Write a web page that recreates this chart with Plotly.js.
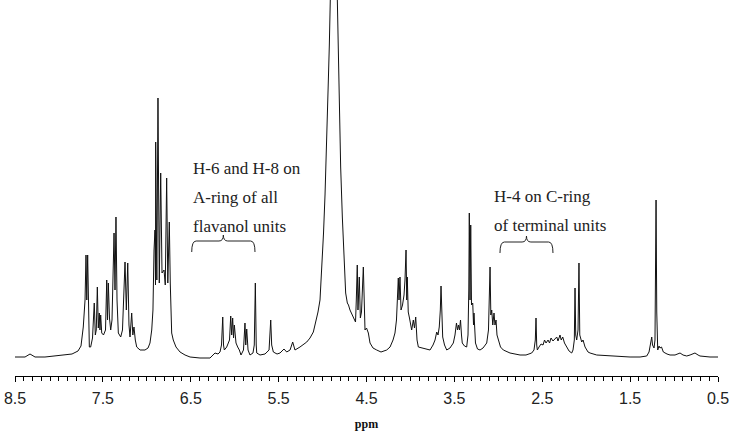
<!DOCTYPE html>
<html>
<head>
<meta charset="utf-8">
<script src="https://cdn.plot.ly/plotly-3.0.1.min.js"></script>
<style>
  body { margin: 0; background: #fff; }
  #spectrum { width: 733px; height: 432px; }
</style>
</head>
<body>
<div id="spectrum"></div>
<script>
// chemical shift (ppm) and signal intensity (arbitrary units)
var shift = [
  8.500, 8.386, 8.329, 8.272, 8.159, 8.045, 7.931, 7.851, 7.783, 7.749,
  7.723, 7.703, 7.692, 7.683, 7.673, 7.664, 7.654, 7.639, 7.618, 7.598,
  7.586, 7.575, 7.563, 7.552, 7.541, 7.533, 7.525, 7.513, 7.493, 7.470,
  7.456, 7.447, 7.438, 7.425, 7.411, 7.396, 7.373, 7.362, 7.351, 7.339,
  7.324, 7.297, 7.277, 7.248, 7.233, 7.217, 7.203, 7.191, 7.172, 7.159,
  7.146, 7.131, 7.115, 7.077, 7.021, 6.986, 6.964, 6.944, 6.930, 6.918,
  6.907, 6.901, 6.899, 6.886, 6.873, 6.858, 6.842, 6.827, 6.804, 6.790,
  6.782, 6.774, 6.761, 6.744, 6.733, 6.717, 6.699, 6.668, 6.622, 6.565,
  6.508, 6.395, 6.281, 6.224, 6.190, 6.167, 6.150, 6.136, 6.127, 6.118,
  6.091, 6.059, 6.045, 6.034, 6.023, 6.013, 6.004, 5.994, 5.985, 5.966,
  5.947, 5.928, 5.900, 5.883, 5.874, 5.863, 5.848, 5.826, 5.792, 5.777,
  5.765, 5.755, 5.749, 5.712, 5.655, 5.609, 5.590, 5.579, 5.560, 5.518,
  5.484, 5.439, 5.408, 5.370, 5.340, 5.314, 5.257, 5.180, 5.143, 5.105,
  5.075, 5.052, 5.029, 5.006, 4.989, 4.972, 4.957, 4.946, 4.935, 4.923,
  4.912, 4.904, 4.893, 4.870, 4.847, 4.832, 4.821, 4.809, 4.794, 4.775,
  4.756, 4.737, 4.718, 4.705, 4.688, 4.665, 4.642, 4.625, 4.616, 4.605,
  4.597, 4.582, 4.570, 4.557, 4.536, 4.526, 4.517, 4.500, 4.479, 4.460,
  4.426, 4.384, 4.335, 4.270, 4.232, 4.198, 4.176, 4.159, 4.147, 4.138,
  4.130, 4.119, 4.107, 4.090, 4.073, 4.062, 4.050, 4.042, 4.036, 4.025,
  4.011, 3.986, 3.967, 3.954, 3.940, 3.925, 3.910, 3.868, 3.823, 3.777,
  3.743, 3.720, 3.701, 3.686, 3.672, 3.660, 3.652, 3.644, 3.633, 3.612,
  3.587, 3.550, 3.512, 3.493, 3.476, 3.464, 3.453, 3.442, 3.430, 3.419,
  3.410, 3.385, 3.360, 3.345, 3.336, 3.330, 3.322, 3.314, 3.305, 3.291,
  3.282, 3.277, 3.269, 3.260, 3.237, 3.208, 3.174, 3.132, 3.112, 3.103,
  3.094, 3.085, 3.075, 3.063, 3.049, 3.038, 3.026, 3.015, 3.000, 2.975,
  2.943, 2.867, 2.753, 2.685, 2.620, 2.594, 2.579, 2.571, 2.563, 2.556,
  2.537, 2.514, 2.491, 2.474, 2.457, 2.434, 2.417, 2.400, 2.378, 2.355,
  2.335, 2.321, 2.298, 2.284, 2.267, 2.247, 2.222, 2.195, 2.165, 2.150,
  2.135, 2.127, 2.119, 2.108, 2.093, 2.082, 2.073, 2.065, 2.051, 2.036,
  2.013, 1.979, 1.956, 1.880, 1.729, 1.501, 1.387, 1.311, 1.285, 1.268,
  1.254, 1.245, 1.228, 1.217, 1.205, 1.197, 1.191, 1.186, 1.171, 1.160,
  1.143, 1.122, 1.080, 1.046, 0.989, 0.955, 0.932, 0.898, 0.856, 0.818,
  0.784, 0.762, 0.727, 0.705, 0.591, 0.500
];

var intensity = [
  1, 1, 4, 1, 1, 2, 3, 4, 7, 12,
  31, 58, 103, 58, 103, 38, 11, 11, 20, 55,
  23, 28, 71, 30, 45, 28, 43, 25, 23, 28,
  78, 38, 75, 40, 28, 38, 125, 68, 141, 58,
  25, 21, 28, 96, 48, 95, 33, 21, 45, 23,
  31, 18, 11, 8, 8, 10, 15, 28, 48, 108,
  128, 73, 216, 78, 260, 75, 185, 85, 88, 73,
  140, 180, 75, 136, 75, 25, 18, 11, 6, 3,
  1, 0, 0, 5, 4, 6, 13, 41, 13, 8,
  11, 18, 42, 23, 40, 20, 33, 18, 15, 11,
  8, 3, 8, 35, 13, 29, 8, 3, 5, 13,
  75, 13, 5, 3, 4, 8, 38, 13, 6, 4,
  5, 9, 6, 8, 16, 8, 11, 16, 20, 26,
  36, 46, 58, 93, 125, 163, 201, 238, 275, 313,
  343, 358, 438, 758, 438, 358, 308, 241, 191, 141,
  98, 65, 55, 53, 48, 43, 38, 36, 58, 93,
  48, 81, 40, 46, 91, 38, 28, 30, 25, 15,
  10, 8, 6, 8, 11, 18, 25, 38, 68, 80,
  58, 81, 48, 53, 63, 78, 108, 58, 81, 46,
  40, 28, 38, 30, 41, 18, 11, 10, 9, 8,
  13, 18, 26, 23, 31, 48, 72, 38, 21, 13,
  8, 10, 15, 23, 35, 28, 33, 28, 38, 23,
  15, 12, 11, 23, 68, 145, 58, 133, 53, 55,
  33, 45, 23, 15, 9, 8, 10, 15, 28, 58,
  91, 43, 48, 33, 45, 33, 38, 23, 18, 11,
  8, 5, 3, 3, 5, 8, 18, 40, 13, 8,
  11, 14, 13, 18, 15, 18, 15, 20, 17, 19,
  21, 17, 23, 18, 21, 15, 11, 7, 5, 8,
  18, 70, 23, 18, 28, 95, 23, 21, 16, 18,
  11, 6, 5, 3, 2, 1, 1, 2, 6, 13,
  21, 13, 10, 18, 158, 46, 18, 8, 12, 10,
  11, 6, 4, 3, 3, 4, 5, 3, 2, 3,
  4, 5, 3, 2, 1, 1
];

var tickPos = [8.5, 7.5, 6.5, 5.5, 4.5, 3.5, 2.5, 1.5, 0.5];
var tickText = ['8.5', '7.5', '6.5', '5.5', '4.5', '3.5', '2.5', '1.5', '0.5'];

var noteA = ['H-6 and H-8 on', 'A-ring of all', 'flavanol units'];
var noteC = ['H-4 on C-ring', 'of terminal units'];

var data = [
    {
        x : shift,
        y : intensity,
        type : 'scatter',
        mode : 'lines',
        line : {color : '#111', width : 1},
        hoverinfo : 'skip'
    }
];

var serif = 'Liberation Serif, Times New Roman, serif';
var annotations = [];
noteA.forEach(function (t, i) {
    annotations.push({
        x : 6.50, y : 190 - i * 29, xref : 'x', yref : 'y',
        text : t, showarrow : false, xanchor : 'left', yanchor : 'middle',
        font : {family : serif, size : 17, color : '#222'}
    });
});
noteC.forEach(function (t, i) {
    annotations.push({
        x : 3.075, y : 162 - i * 29, xref : 'x', yref : 'y',
        text : t, showarrow : false, xanchor : 'left', yanchor : 'middle',
        font : {family : serif, size : 17, color : '#222'}
    });
});

// curly braces under the labels
function brace(x0, x1, yEnd, yBody, yTip) {
    var xm = (x0 + x1) / 2, c = 0.05;
    return 'M' + x0 + ',' + yEnd +
        ' Q' + x0 + ',' + yBody + ' ' + (x0 - c) + ',' + yBody +
        ' L' + (xm + c) + ',' + yBody +
        ' Q' + xm + ',' + yBody + ' ' + xm + ',' + yTip +
        ' Q' + xm + ',' + yBody + ' ' + (xm - c) + ',' + yBody +
        ' L' + (x1 + c) + ',' + yBody +
        ' Q' + x1 + ',' + yBody + ' ' + x1 + ',' + yEnd;
}

var layout = {
    width : 733,
    height : 432,
    margin : {l : 15, r : 15, t : 0, b : 56},
    paper_bgcolor : '#fff',
    plot_bgcolor : '#fff',
    showlegend : false,
    xaxis : {
        range : [8.5, 0.5],
        showgrid : false,
        zeroline : false,
        showline : true,
        linecolor : '#000',
        linewidth : 1,
        ticks : 'outside',
        ticklen : 5,
        tickcolor : '#000',
        tickvals : tickPos,
        ticktext : tickText,
        ticklabelstandoff : 3,
        tickfont : {family : 'Liberation Sans, Arial, sans-serif', size : 16, color : '#222'},
        minor : {dtick : 0.1, tick0 : 0.5, ticks : 'outside', ticklen : 4, tickcolor : '#000', showgrid : false},
        title : {text : '<b>ppm</b>', font : {family : serif, size : 12, color : '#111'}, standoff : 13}
    },
    yaxis : {
        range : [-18, 358],
        visible : false,
        fixedrange : true
    },
    annotations : annotations,
    shapes : [
        {type : 'path', xref : 'x', yref : 'y', path : brace(6.489, 5.769, 106, 117, 123),
         line : {color : '#222', width : 1}},
        {type : 'path', xref : 'x', yref : 'y', path : brace(2.981, 2.378, 105, 116, 122),
         line : {color : '#222', width : 1}}
    ]
};

Plotly.newPlot('spectrum', data, layout, {displayModeBar : false, staticPlot : true});
</script>
</body>
</html>
